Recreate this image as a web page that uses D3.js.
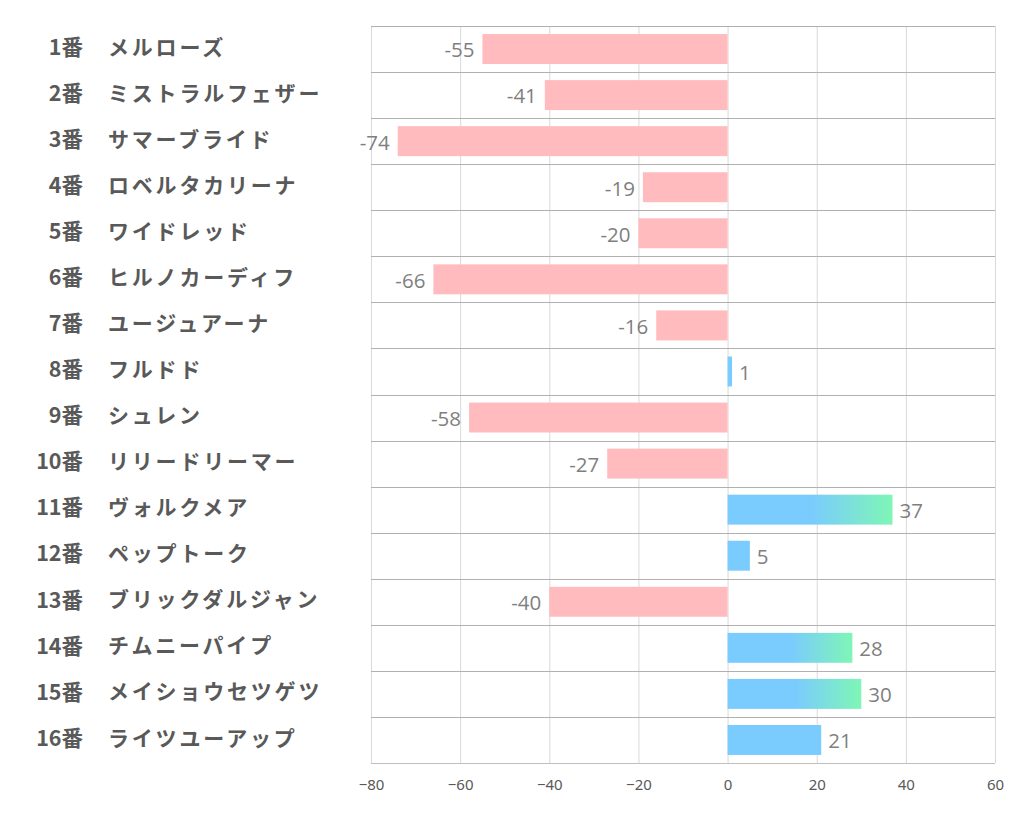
<!DOCTYPE html>
<html><head><meta charset="utf-8">
<script src="https://cdn.jsdelivr.net/npm/d3@7"></script>
<style>body{margin:0;background:#fff;}svg{display:block;}</style>
</head><body>
<svg id="c" width="1022" height="834"></svg>
<script>
const numbers = ["1番","2番","3番","4番","5番","6番","7番","8番","9番","10番","11番","12番","13番","14番","15番","16番"];
const names = ["メルローズ","ミストラルフェザー","サマーブライド","ロベルタカリーナ","ワイドレッド","ヒルノカーディフ","ユージュアーナ","フルドド","シュレン","リリードリーマー","ヴォルクメア","ペップトーク","ブリックダルジャン","チムニーパイプ","メイショウセツゲツ","ライツユーアップ"];
const values = [-55,-41,-74,-19,-20,-66,-16,1,-58,-27,37,5,-40,28,30,21];
const ticks = [-80,-60,-40,-20,0,20,40,60];

const svg = d3.select("#c");
const L = 371, R = 995, T = 26, B = 763;
const x = d3.scaleLinear().domain([-80,60]).range([L,R]);
const y = d3.scaleBand().domain(d3.range(values.length)).range([T,B]).paddingInner(0.35).paddingOuter(0.175);
const rowY = d3.scaleBand().domain(d3.range(values.length)).range([T,B]);

const defs = svg.append("defs");
const gr = defs.append("linearGradient").attr("id","g").attr("x1","0%").attr("x2","100%");
gr.append("stop").attr("offset","0%").attr("stop-color","#7ACBFE");
gr.append("stop").attr("offset","50%").attr("stop-color","#7ACBFE");
gr.append("stop").attr("offset","100%").attr("stop-color","#7EF6B6");

// vertical grid
svg.append("g").selectAll("line").data(ticks).join("line")
  .attr("x1",d=>x(d)+0.5).attr("x2",d=>x(d)+0.5).attr("y1",T).attr("y2",B)
  .attr("stroke","#d9d9d9").attr("stroke-width",1);
// horizontal lines
svg.append("g").selectAll("line").data(d3.range(values.length)).join("line")
  .attr("x1",L).attr("x2",R).attr("y1",d=>Math.round(rowY(d))+0.5).attr("y2",d=>Math.round(rowY(d))+0.5)
  .attr("stroke","#b0b0b0").attr("stroke-width",1);
// axis
const ax = svg.append("g").attr("transform",`translate(0,${B})`)
  .call(d3.axisBottom(x).tickValues(ticks).tickSize(0).tickPadding(16));
ax.select(".domain").attr("stroke","#bfbfbf").attr("d",`M${L},0.5H${R}`);
ax.selectAll("text").attr("font-family","'Noto Sans','Liberation Sans',sans-serif").attr("font-size",15).attr("fill","#595959");

// bars
svg.append("g").selectAll("rect").data(values).join("rect")
  .attr("x",d=>x(Math.min(0,d))).attr("width",d=>Math.abs(x(d)-x(0)))
  .attr("y",(d,i)=>y(i)).attr("height",y.bandwidth())
  .attr("fill",d=>d<0?"#FFBBBD":(d>=25?"url(#g)":"#7ACBFE"));

// value labels
svg.append("g").selectAll("text").data(values).join("text")
  .attr("x",d=>d<0?x(d)-8:x(d)+7)
  .attr("y",(d,i)=>y(i)+y.bandwidth()/2+1)
  .attr("dy","0.36em")
  .attr("text-anchor",d=>d<0?"end":"start")
  .attr("font-family","'Open Sans','Noto Sans',sans-serif").attr("font-size",20.5).attr("fill","#7f7f7f")
  .text(d=>d);

// category labels
const cat = svg.append("g");
cat.selectAll("text.n").data(numbers).join("text").attr("class","n")
  .attr("x",83).attr("y",(d,i)=>rowY(i)+rowY.bandwidth()/2-2).attr("dy","0.36em")
  .attr("text-anchor","end").attr("font-family","'Noto Sans CJK JP',sans-serif")
  .attr("font-weight","bold").attr("font-size",21.5).attr("fill","#595959").text(d=>d);
cat.selectAll("text.m").data(names).join("text").attr("class","m")
  .attr("x",108).attr("y",(d,i)=>rowY(i)+rowY.bandwidth()/2-2).attr("dy","0.36em")
  .attr("text-anchor","start").attr("font-family","'Noto Sans CJK JP',sans-serif")
  .attr("font-weight","bold").attr("font-size",21).attr("letter-spacing","2.8px").attr("fill","#595959").text(d=>d);
</script>
</body></html>
